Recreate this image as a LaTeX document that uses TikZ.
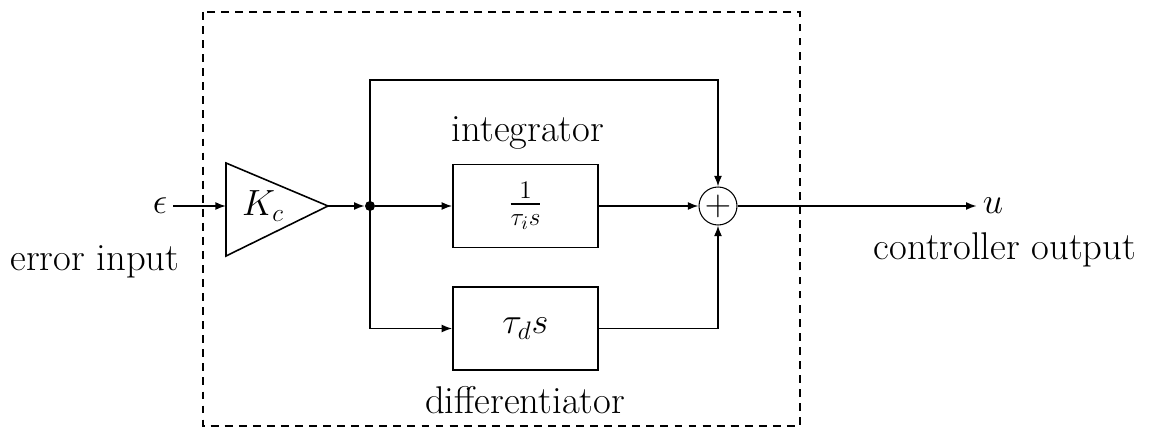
\documentclass[tikz,border=0pt]{standalone}
\usepackage{amsmath}
\usetikzlibrary{arrows.meta,positioning,calc}

\begin{document}
\begin{tikzpicture}[x=0.02cm,y=-0.02cm,>={Latex[length=6pt,width=4.5pt]},
 every node/.style={font=\fontsize{22}{26}\selectfont},
 blk/.style={draw,line width=0.9pt,minimum width=2.9cm,minimum height=1.66cm,inner sep=0pt},
 sumnode/.style={draw,circle,line width=0.6pt,minimum size=0.76cm,inner sep=0pt},
 dotnode/.style={circle,fill,inner sep=0pt,minimum size=0.2cm},
 arr/.style={->,line width=0.9pt},lin/.style={line width=0.9pt}]
\useasboundingbox (0,0) rectangle (1153,429);
\draw[dash pattern=on 4.5pt off 3.5pt,line width=0.8pt] (203,12) rectangle (800,426);
% gain block
\coordinate (gin) at (226,206);
\coordinate (gout) at (328,206);
\draw[lin] (226,163) -- (gout) -- (226,256) -- cycle;
\node (gain) at (263,206) {$K_c$};
\node (eps) at (160,206) {$\epsilon$};
\node (errlbl) at (95,262) {error input};
\node[dotnode] (split) at (370,206) {};
\node[blk] (int) at (525.5,206) {$\frac{1}{\tau_i s}$};
\node (intlbl) at (528,133) {integrator};
\node[blk] (dif) at (525.5,328.5) {$\tau_d s$};
\node (diflbl) at (525,400) {differentiator};
\node[sumnode] (sum) at (718,206) {$+$};
\node (u) at (993,206) {$u$};
\node (outlbl) at (1005,250) {controller output};
\draw[arr] (eps) -- (gin);
\draw[arr] (gout) -- (split.west);
\draw[arr] (split) -- (int.west);
\draw[arr] (split.center) |- (dif.west);
\draw[arr] (split.center) -- ++(0,-126) -| (sum.north);
\draw[arr] (int) -- (sum);
\draw[arr] (dif) -| (sum.south);
\draw[arr] (sum) -- (u);
\end{tikzpicture}
\end{document}
